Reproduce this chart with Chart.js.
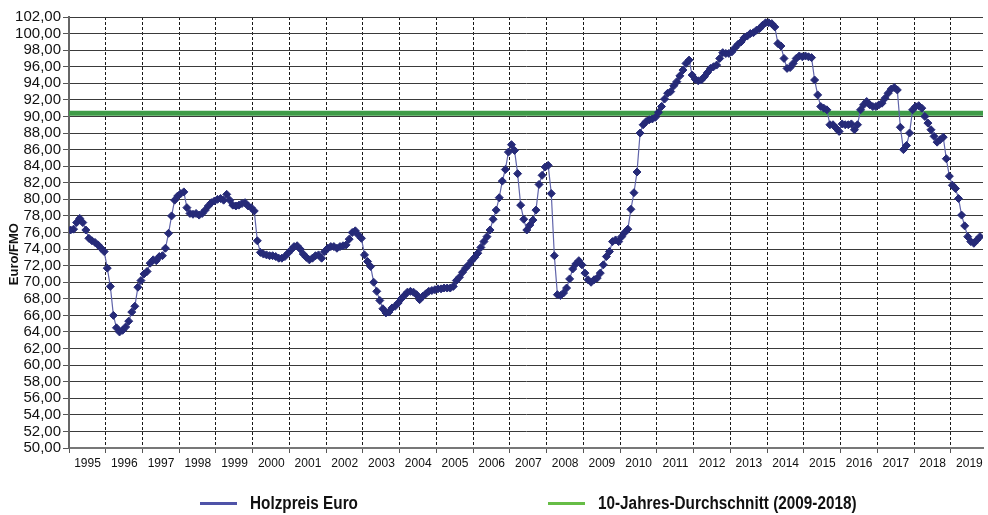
<!DOCTYPE html>
<html>
<head>
<meta charset="utf-8">
<title>Holzpreis Euro</title>
<script src="https://cdn.jsdelivr.net/npm/chart.js@4.4.0/dist/chart.umd.min.js"></script>
<style>
  html, body { margin: 0; padding: 0; background: #fff; }
  #wrap { position: relative; width: 988px; height: 515px; overflow: hidden; }
  #legend { position: absolute; left: 0; top: 492px; width: 988px; height: 22px;
    font: bold 18px "Liberation Sans", Arial, sans-serif; color: #111; }
  .item { position: absolute; top: 0; height: 22px; display: flex; align-items: center; white-space: nowrap; }
  .swatch { width: 37px; height: 3px; margin-right: 13px; }
  .label { display: inline-block; transform: scaleX(0.85); transform-origin: left center; }
</style>
</head>
<body>
<div id="wrap">
  <canvas id="holzChart"></canvas>
  <div id="legend"></div>
</div>
<script>
const years = [1995, 1996, 1997, 1998, 1999, 2000, 2001, 2002, 2003, 2004, 2005, 2006, 2007,
  2008, 2009, 2010, 2011, 2012, 2013, 2014, 2015, 2016, 2017, 2018, 2019];
const yTicks = [50, 52, 54, 56, 58, 60, 62, 64, 66, 68, 70, 72, 74, 76, 78, 80,
  82, 84, 86, 88, 90, 92, 94, 96, 98, 100, 102];

// monthly wood price (Euro/FMO), Jan 1995 - Oct 2019
const holzpreis = [
  76.3, 76.4, 77.2, 77.7, 77.2, 76.3, 75.3, 75.0, 74.8, 74.5, 74.1, 73.7, // 1995
  71.7, 69.5, 66.0, 64.5, 64.0, 64.2, 64.6, 65.3, 66.4, 67.1, 69.4, 70.2, // 1996
  71.0, 71.3, 72.3, 72.7, 72.6, 73.1, 73.2, 74.1, 75.9, 78.0, 79.9, 80.4, // 1997
  80.7, 80.9, 79.0, 78.3, 78.2, 78.3, 78.1, 78.3, 78.7, 79.2, 79.6, 79.8, // 1998
  80.0, 80.1, 79.9, 80.6, 79.9, 79.3, 79.2, 79.3, 79.5, 79.6, 79.2, 79.0, // 1999
  78.6, 75.0, 73.6, 73.4, 73.3, 73.2, 73.2, 73.1, 72.9, 72.9, 73.1, 73.5, // 2000
  73.9, 74.3, 74.4, 74.0, 73.4, 73.0, 72.7, 72.9, 73.2, 73.3, 72.9, 73.7, // 2001
  74.1, 74.3, 74.3, 74.1, 74.3, 74.4, 74.5, 75.2, 76.0, 76.2, 75.7, 75.3, // 2002
  73.3, 72.5, 71.9, 70.0, 68.9, 67.8, 66.8, 66.3, 66.4, 66.9, 67.1, 67.5, // 2003
  68.0, 68.4, 68.8, 68.9, 68.8, 68.5, 67.9, 68.3, 68.6, 68.9, 69.0, 69.1, // 2004
  69.2, 69.2, 69.3, 69.3, 69.3, 69.5, 70.2, 70.6, 71.2, 71.7, 72.1, 72.6, // 2005
  73.0, 73.5, 74.2, 74.9, 75.5, 76.3, 77.6, 78.7, 80.2, 82.2, 83.6, 85.7, // 2006
  86.6, 85.9, 83.1, 79.3, 77.6, 76.3, 76.9, 77.5, 78.7, 81.8, 82.9, 83.9, // 2007
  84.1, 80.7, 73.2, 68.5, 68.4, 68.7, 69.3, 70.4, 71.6, 72.2, 72.6, 72.1, // 2008
  71.1, 70.3, 70.0, 70.3, 70.5, 71.1, 72.1, 73.1, 73.7, 74.9, 75.1, 74.9, // 2009
  75.5, 76.0, 76.4, 78.8, 80.8, 83.3, 88.0, 89.0, 89.4, 89.6, 89.7, 89.9, // 2010
  90.5, 91.2, 92.1, 92.8, 93.0, 93.7, 94.2, 94.9, 95.6, 96.4, 96.8, 95.0, // 2011
  94.5, 94.3, 94.4, 94.8, 95.3, 95.8, 96.0, 96.2, 97.0, 97.7, 97.6, 97.6, // 2012
  97.8, 98.3, 98.7, 99.0, 99.5, 99.7, 100.0, 100.1, 100.4, 100.6, 101.0, 101.3, // 2013
  101.3, 101.2, 100.8, 98.8, 98.5, 97.0, 95.8, 95.9, 96.4, 97.0, 97.3, 97.2, // 2014
  97.3, 97.2, 97.1, 94.4, 92.6, 91.2, 91.0, 90.8, 89.0, 89.0, 88.6, 88.2, // 2015
  89.1, 89.0, 89.0, 89.1, 88.4, 89.0, 90.8, 91.4, 91.8, 91.4, 91.2, 91.2, // 2016
  91.4, 91.6, 92.2, 92.8, 93.3, 93.5, 93.2, 88.7, 86.0, 86.5, 88.0, 90.8, // 2017
  91.2, 91.3, 91.0, 90.0, 89.2, 88.4, 87.6, 86.9, 87.2, 87.5, 84.9, 82.8, // 2018
  81.7, 81.3, 80.1, 78.1, 76.8, 75.5, 74.9, 74.7, 75.1, 75.5              // 2019
];

// 10-year average 2009-2018
const durchschnitt = 90.4;

const seriesLabels = ['Holzpreis Euro', '10-Jahres-Durchschnitt (2009-2018)'];
const legendColors = ['#4f53a8', '#66bd46'];
const legendLeft = [200, 548];

const xMin = 1995;
const xMax = 2019.874;
const fontFamily = '"Liberation Sans", Arial, sans-serif';

const preisPoints = holzpreis.map((v, i) => ({ x: years[0] + (i + 0.5) / 12, y: v }));
const avgPoints = [{ x: xMin, y: durchschnitt }, { x: xMax, y: durchschnitt }];

const ctx = document.getElementById('holzChart').getContext('2d');
const chart = new Chart(ctx, {
  type: 'line',
  data: {
    datasets: [
      {
        label: seriesLabels[0],
        data: preisPoints,
        borderColor: '#6064aa',
        borderWidth: 1.2,
        pointStyle: 'rectRot',
        pointRadius: 4,
        pointBackgroundColor: '#262a78',
        pointBorderColor: '#262a78',
        pointBorderWidth: 1,
        tension: 0
      },
      {
        label: seriesLabels[1],
        data: avgPoints,
        borderColor: '#3f9c48',
        borderWidth: 5,
        pointRadius: 0
      }
    ]
  },
  options: {
    responsive: true,
    maintainAspectRatio: false,
    animation: false,
    layout: { padding: { top: 17, right: 0, bottom: 45, left: 0 } },
    plugins: {
      legend: { display: false },
      tooltip: { enabled: false }
    },
    scales: {
      x: {
        type: 'linear',
        bounds: 'data',
        min: xMin,
        max: xMax,
        afterBuildTicks: s => { s.ticks = years.map(v => ({ value: v })); },
        afterFit: s => { s.height = 22; },
        grid: { color: '#1a1a1a', lineWidth: 1, tickLength: 5, tickColor: '#555', tickBorderDash: [] },
        border: { display: true, color: '#777', width: 2, dash: [3, 2] },
        ticks: {
          autoSkip: false,
          maxRotation: 0,
          labelOffset: 18.5,
          padding: 3,
          color: '#111',
          font: { family: fontFamily, size: 12 },
          callback: v => String(v)
        }
      },
      y: {
        bounds: 'data',
        min: 50,
        max: 102,
        afterBuildTicks: s => { s.ticks = yTicks.map(v => ({ value: v })); },
        afterFit: s => { s.width = 69; },
        grid: { color: '#3a3a3a', lineWidth: 1, tickLength: 6, tickColor: '#555' },
        border: { display: true, color: '#666', width: 2 },
        ticks: {
          autoSkip: false,
          padding: 2,
          color: '#111',
          font: { family: fontFamily, size: 15 },
          callback: v => v.toFixed(2).replace('.', ',')
        },
        title: {
          display: true,
          // trailing spaces push the rotated title a bit below the middle, as in the original
          text: 'Euro/FMO' + '\u00a0'.repeat(12),
          color: '#111',
          font: { family: fontFamily, size: 13, weight: 'bold' },
          padding: { top: 7, bottom: 0 }
        }
      }
    }
  }
});

// html legend below the chart
const legendEl = document.getElementById('legend');
chart.data.datasets.forEach((ds, i) => {
  const item = document.createElement('div');
  item.className = 'item';
  item.style.left = legendLeft[i] + 'px';
  const sw = document.createElement('span');
  sw.className = 'swatch';
  sw.style.background = legendColors[i];
  const txt = document.createElement('span');
  txt.className = 'label';
  txt.textContent = ds.label;
  item.appendChild(sw);
  item.appendChild(txt);
  legendEl.appendChild(item);
});
</script>
</body>
</html>
